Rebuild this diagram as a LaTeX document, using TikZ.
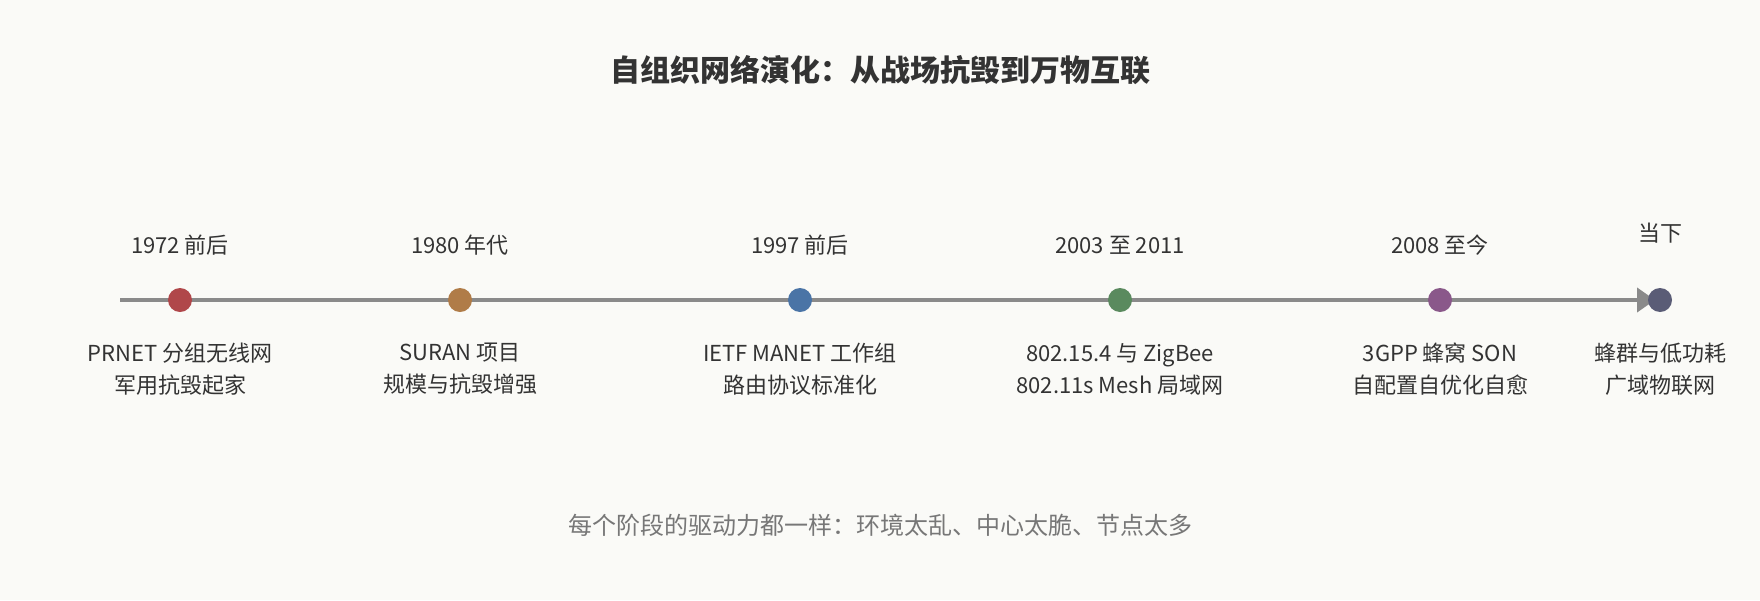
\documentclass[tikz,border=0pt]{standalone}
\usepackage{fontspec}
\setmainfont{Noto Sans CJK SC}
\usetikzlibrary{arrows.meta, positioning}
\definecolor{bg}{HTML}{FAFAF7}
\definecolor{inkdark}{HTML}{333333}
\definecolor{inkgray}{HTML}{777777}
\definecolor{axisgray}{HTML}{8A8A8A}
\definecolor{c1972}{HTML}{B0474A}
\definecolor{c1980}{HTML}{B07C48}
\definecolor{c1997}{HTML}{4A74A6}
\definecolor{c2003}{HTML}{5A8A5E}
\definecolor{c2008}{HTML}{8A588A}
\definecolor{cnow}{HTML}{5A5C76}
\tikzstyle{milestone} = [circle, minimum size=24pt, inner sep=0pt, draw=none]
\tikzstyle{year} = [text=inkdark, inner sep=0pt, font=\fontsize{22}{26}\selectfont]
\tikzstyle{desc} = [align=center, text=inkdark, inner sep=0pt, font=\fontsize{22}{32}\selectfont]
\tikzstyle{axis} = [line width=4pt, draw=axisgray, -{Triangle[length=18pt,width=24pt,fill=axisgray]}]

\begin{document}
\begin{tikzpicture}[x=1pt, y=-1pt]
    % Background
    \fill[bg] (0,0) rectangle (1760,600);
    \useasboundingbox (0,0) rectangle (1760,600);

    % Title
    \node (title) [text=inkdark, font=\fontsize{30}{34}\selectfont\bfseries] at (880,70) {自组织网络演化：从战场抗毁到万物互联};

    % Axis
    \coordinate (start) at (120,300);
    \node (now) [milestone] at (1660,300) {};
    \draw [axis, shorten >=5pt] (start) -- (now.center);

    % Nodes
    \node (p1972) [milestone, fill=c1972] at (180,300) {};
    \node (p1980) [milestone, fill=c1980] at (460,300) {};
    \node (p1997) [milestone, fill=c1997] at (800,300) {};
    \node (p2003) [milestone, fill=c2003] at (1120,300) {};
    \node (p2008) [milestone, fill=c2008] at (1440,300) {};
    \node [milestone, fill=cnow] at (now) {};

    % Years
    \node (y1972) [year] at (180,245) {1972 前后};
    \node (y1980) [year] at (460,245) {1980 年代};
    \node (y1997) [year] at (800,245) {1997 前后};
    \node (y2003) [year] at (1120,245) {2003 至 2011};
    \node (y2008) [year] at (1440,245) {2008 至今};
    \node (ynow) [year] at (1660,233) {当下};

    % Descriptions
    \node (d1972) [desc] at (180,369) {PRNET 分组无线网\\军用抗毁起家};
    \node (d1980) [desc] at (460,369) {SURAN 项目\\规模与抗毁增强};
    \node (d1997) [desc] at (800,369) {IETF MANET 工作组\\路由协议标准化};
    \node (d2003) [desc] at (1120,369) {802.15.4 与 ZigBee\\802.11s Mesh 局域网};
    \node (d2008) [desc] at (1440,369) {3GPP 蜂窝 SON\\自配置自优化自愈};
    \node (dnow) [desc] at (1660,369) {蜂群与低功耗\\广域物联网};

    % Footer
    \node (footer) [text=inkgray, font=\fontsize{24}{28}\selectfont] at (880,525) {每个阶段的驱动力都一样：环境太乱、中心太脆、节点太多};
\end{tikzpicture}
\end{document}
